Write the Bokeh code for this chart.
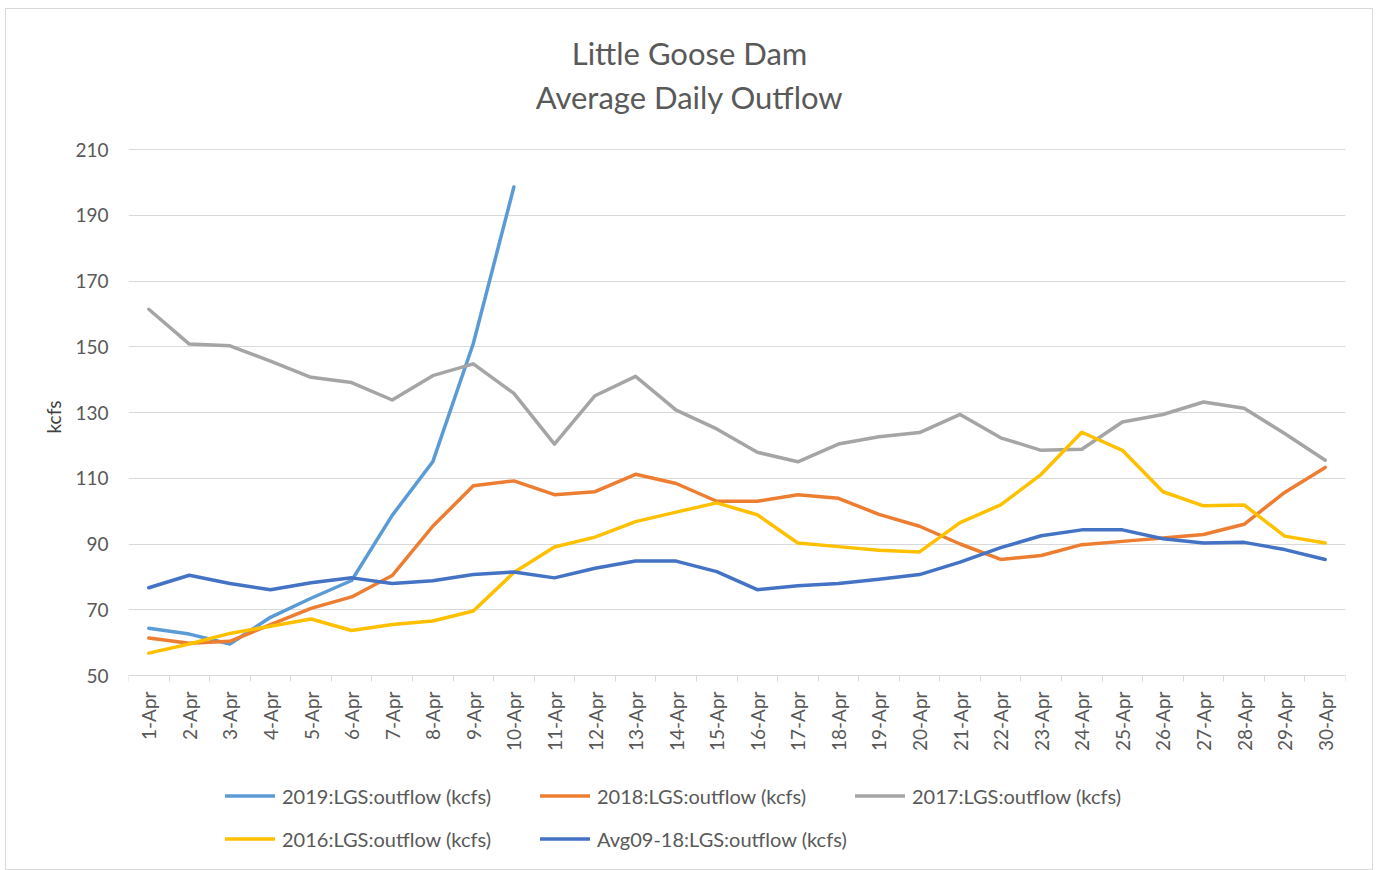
import math
from bokeh.plotting import figure
from bokeh.models import Range1d, FixedTicker, Legend, LegendItem, Label, Title
from bokeh.embed import file_html
from bokeh.resources import INLINE

dates = ["1-Apr", "2-Apr", "3-Apr", "4-Apr", "5-Apr", "6-Apr", "7-Apr", "8-Apr", "9-Apr", "10-Apr",
         "11-Apr", "12-Apr", "13-Apr", "14-Apr", "15-Apr", "16-Apr", "17-Apr", "18-Apr", "19-Apr", "20-Apr",
         "21-Apr", "22-Apr", "23-Apr", "24-Apr", "25-Apr", "26-Apr", "27-Apr", "28-Apr", "29-Apr", "30-Apr"]

y2019 = [64.4, 62.6, 59.6, 67.7, 73.5, 78.9, 98.7, 115.0, 151.0, 198.6]
y2018 = [61.4, 59.8, 60.4, 65.5, 70.4, 73.9, 80.4, 95.4, 107.7, 109.2,
         105.0, 105.9, 111.2, 108.4, 103.0, 103.0, 105.0, 103.9, 99.0, 95.4,
         90.0, 85.3, 86.5, 89.8, 90.8, 91.8, 92.9, 96.0, 105.7, 113.3]
y2017 = [161.4, 150.8, 150.3, 145.6, 140.7, 139.1, 133.8, 141.2, 144.8, 135.8,
         120.4, 135.1, 141.0, 130.7, 125.0, 117.9, 115.0, 120.4, 122.6, 123.9,
         129.4, 122.3, 118.5, 118.8, 127.1, 129.4, 133.2, 131.3, 123.6, 115.5]
y2016 = [56.8, 59.6, 62.8, 65.0, 67.2, 63.7, 65.5, 66.6, 69.6, 81.3,
         89.1, 92.1, 96.8, 99.7, 102.5, 98.9, 90.3, 89.2, 88.1, 87.6,
         96.5, 101.9, 111.2, 124.0, 118.5, 105.9, 101.6, 101.9, 92.4, 90.3]
yavg = [76.7, 80.5, 78.0, 76.1, 78.2, 79.7, 78.0, 78.8, 80.7, 81.5,
        79.7, 82.6, 84.8, 84.8, 81.6, 76.1, 77.3, 78.0, 79.3, 80.7,
        84.5, 88.9, 92.5, 94.3, 94.3, 91.6, 90.3, 90.5, 88.3, 85.3]

series_names = ["2019:LGS:outflow (kcfs)", "2018:LGS:outflow (kcfs)", "2017:LGS:outflow (kcfs)",
                "2016:LGS:outflow (kcfs)", "Avg09-18:LGS:outflow (kcfs)"]
series_values = [y2019, y2018, y2017, y2016, yavg]
colors = ["#5B9BD5", "#ED7D31", "#A5A5A5", "#FFC000", "#4472C4"]

y_ticks = [50, 70, 90, 110, 130, 150, 170, 190, 210]
title_lines = ["Little Goose Dam", "Average Daily Outflow"]
y_label = "kcfs"

FONT = "Lato"
GRAY = "#595959"

# layout (pixels): the frame covers the full height so that the title and
# legend (drawn inside it) are not clipped; the data area spans 526 px.
CANVAS_H = 860
DATA_TOP, DATA_BOTTOM = 140, 666          # within the canvas
ppu = (DATA_BOTTOM - DATA_TOP) / (y_ticks[-1] - y_ticks[0])
y_lo = y_ticks[0] - (CANVAS_H - DATA_BOTTOM) / ppu
y_hi = y_ticks[-1] + DATA_TOP / ppu

xs = list(range(1, len(dates) + 1))

p = figure(width=1366, height=CANVAS_H,
           x_range=Range1d(0.5, len(dates) + 0.5), y_range=Range1d(y_lo, y_hi),
           output_backend="svg", toolbar_location=None,
           min_border_left=122, min_border_right=27, min_border_top=0, min_border_bottom=0,
           margin=(9, 0, 0, 6))
p.styles = {"outline": "1px solid #d9d9d9"}
p.outline_line_color = None
p.background_fill_color = "white"
p.border_fill_color = "white"

items = []
for name, vals, c in zip(series_names, series_values, colors):
    r = p.line(xs[:len(vals)], vals, line_color=c, line_width=3.5, line_join="round", line_cap="round")
    items.append(LegendItem(label=name, renderers=[r]))

# x axis drawn at the bottom of the data area
p.xaxis.fixed_location = y_ticks[0]
p.xaxis.bounds = (0.5, len(dates) + 0.5)
p.xaxis.ticker = FixedTicker(ticks=xs, minor_ticks=[i + 0.5 for i in range(0, len(dates) + 1)])
p.xaxis.major_label_overrides = {i: d for i, d in zip(xs, dates)}
p.xaxis.major_label_orientation = math.pi / 2
p.xaxis.major_tick_line_color = None
p.xaxis.major_tick_out = 0
p.xaxis.major_tick_in = 0
p.xaxis.minor_tick_line_color = "#d9d9d9"
p.xaxis.minor_tick_out = 6
p.xaxis.minor_tick_in = 0
p.xaxis.axis_line_color = "#d9d9d9"
p.xaxis.major_label_standoff = 10
p.xaxis.major_label_text_font = FONT
p.xaxis.major_label_text_font_size = "19px"
p.xaxis.major_label_text_color = GRAY

p.yaxis.ticker = FixedTicker(ticks=y_ticks)
p.yaxis.axis_line_color = None
p.yaxis.major_tick_line_color = None
p.yaxis.minor_tick_line_color = None
p.yaxis.major_tick_out = 0
p.yaxis.major_label_standoff = 20
p.yaxis.major_label_text_font = FONT
p.yaxis.major_label_text_font_size = "19px"
p.yaxis.major_label_text_color = GRAY

# y axis title, placed next to the data area
p.add_layout(Title(text=y_label, align="left", offset=CANVAS_H - DATA_TOP - 284,
                   vertical_align="middle", standoff=14,
                   text_font=FONT, text_font_size="19px", text_font_style="normal",
                   text_color="#404040"), "left")

p.xgrid.visible = False
p.ygrid.grid_line_color = "#d9d9d9"
p.ygrid.grid_line_width = 1

# chart title (two lines)
title_y = [y_ticks[-1] + (DATA_TOP - 43) / ppu, y_ticks[-1] + (DATA_TOP - 87) / ppu]
for txt, ty in zip(title_lines, title_y):
    p.add_layout(Label(x=14.33, y=ty, text=txt, text_align="center", text_baseline="middle",
                       text_font=FONT, text_font_size="31px", text_color=GRAY))

legend = Legend(items=items, location=(97, 13), orientation="horizontal", ncols=3,
                border_line_color=None, background_fill_alpha=0, padding=0, margin=0,
                glyph_width=50, glyph_height=35, label_height=35, label_width=250,
                label_standoff=7, spacing=8,
                label_text_font=FONT, label_text_font_size="20px", label_text_color=GRAY)
p.add_layout(legend)

open("out.html", "w").write(file_html(p, INLINE))
